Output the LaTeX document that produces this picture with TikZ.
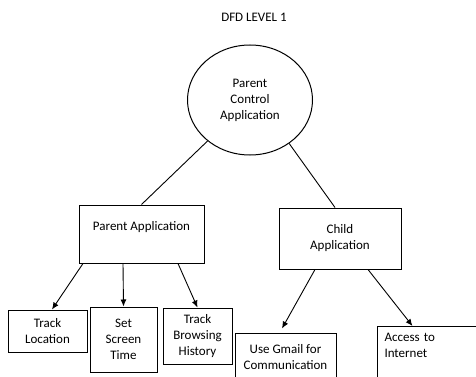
\documentclass[tikz,border=0pt]{standalone}
\usepackage{fontspec}
\setmainfont{Carlito}
\usetikzlibrary{arrows.meta,shapes,positioning,calc}
\usetikzlibrary{shapes.geometric}

\begin{document}
\begin{tikzpicture}[x=1pt,y=-1pt,
    every node/.style={font=\fontsize{13}{16}\selectfont,align=center},
    box/.style={rectangle,draw,line width=1pt,inner sep=4pt},
    flow/.style={line width=0.9pt,-{Latex[length=7pt,width=6pt]}}]
    \useasboundingbox (0,0) rectangle (476,377);
    \clip (0,0) rectangle (476,377);
    \node(title) at (254,17){DFD LEVEL 1};
    \node[ellipse,draw,line width=1pt,minimum width=125,minimum height=110](app) at (250,100){Parent\\Control\\Application};
    \node[box,minimum width=125,minimum height=58](parentapp) at (141.5,234){Parent Application\\ \mbox{}};
    \node[box,minimum width=122,minimum height=61](childapp) at (340,238.5){Child\\Application};
    \node[box,minimum width=79,minimum height=42](trackloc) at (47.5,331){Track\\Location};
    \node[box,minimum width=67,minimum height=65](screen) at (123.5,339.5){Set\\Screen\\Time};
    \node[box,minimum width=69,minimum height=56](browsing) at (197.5,336){Track\\Browsing\\History};
    \node[box,minimum width=101,minimum height=49](gmail) at (285.5,357.5){Use Gmail for\\Communication};
    \node[box,anchor=north west,align=left,text width=96,inner sep=7pt](internet) at (377,326){Access to\\Internet\\ \mbox{}};
    \path(app.224)[line width=0.9pt]edge(parentapp.north);
    \path(app.312)[line width=0.9pt]edge([xshift=-5pt]childapp.north);
    \path([xshift=-58.5pt]parentapp.south)[flow]edge([xshift=4.5pt]trackloc.north);
    \path([xshift=-18.5pt]parentapp.south)[flow]edge(screen.north);
    \path([xshift=36.5pt]parentapp.south)[flow]edge(browsing.north);
    \path([xshift=-25pt]childapp.south)[flow]edge([xshift=-3.5pt,yshift=4pt]gmail.north);
    \path([xshift=28pt]childapp.south)[flow]edge([xshift=-20pt]internet.north);
\end{tikzpicture}
\end{document}
